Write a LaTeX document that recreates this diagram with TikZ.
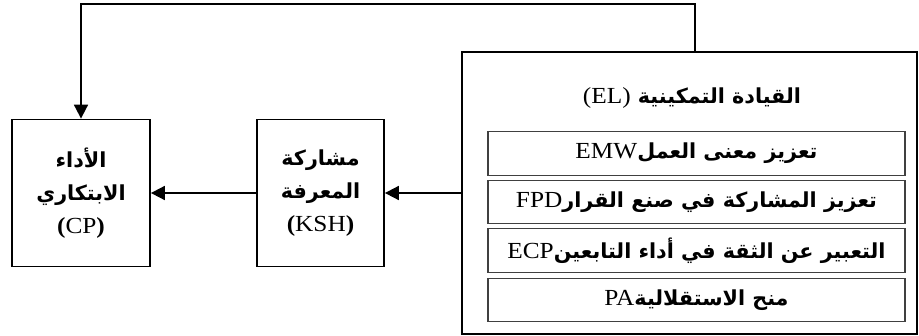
\documentclass[tikz,border=0pt]{standalone}
\usepackage{fontspec}
\setmainfont{Liberation Serif}[FakeStretch=1.1]
\newfontfamily\arabicfont[Script=Arabic, Scale=0.9]{DejaVu Sans}
\TeXXeTstate=1
\usetikzlibrary{arrows.meta}
\newcommand{\artxt}[1]{{\arabicfont\bfseries\beginR #1\endR}}
\newcommand{\lattxt}[1]{\beginL{\normalfont #1}\endL}

\begin{document}
\begin{tikzpicture}[x=1pt, y=-1pt]
				\tikzstyle{every node}=[font=\fontsize{23}{33}\selectfont, align=center];
				\tikzstyle{box}=[draw, line width=1.8pt];
				\tikzstyle{subbox}=[draw=black!75, line width=1.1pt, minimum width=417, minimum height=43.5];
				\tikzstyle{arrow}=[line width=1.8pt, -{Triangle[length=14pt, width=14pt]}];
				\useasboundingbox (0,0) rectangle (919,335);
				\node [box, minimum width=138, minimum height=147] (cp) at (81,193) {\artxt{الأداء}\\ \artxt{الابتكاري}\\ {\bfseries(}CP{\bfseries)}};
				\node [box, minimum width=127, minimum height=147] (ksh) at (320.5,193) {\artxt{مشاركة}\\ \artxt{المعرفة}\\ {\bfseries(}KSH{\bfseries)}};
				\node [box, minimum width=455, minimum height=282] (el) at (689.5,193) {};
				\node (title) at (692,98) {\artxt{القيادة التمكينية \lattxt{(EL)}}};
				\node [subbox] (emw) at (696.5,153.5) {\artxt{تعزيز معنى العمل\lattxt{EMW}}};
				\node [subbox] (fpd) at (696.5,202) {\artxt{تعزيز المشاركة في صنع القرار\lattxt{FPD}}};
				\node [subbox] (ecp) at (696.5,250.5) {\artxt{التعبير عن الثقة في أداء التابعين\lattxt{ECP}}};
				\node [subbox] (pa) at (696.5,300) {\artxt{منح الاستقلالية\lattxt{PA}}};
				\coordinate (fb) at (695,4);
				\draw[arrow] (el.west) -- (el.west -| ksh.east);
				\draw[arrow] (ksh.west) -- (ksh.west -| cp.east);
				\draw[arrow] (el.north -| fb) -- (fb) -| (cp.north);
\end{tikzpicture}
\end{document}
